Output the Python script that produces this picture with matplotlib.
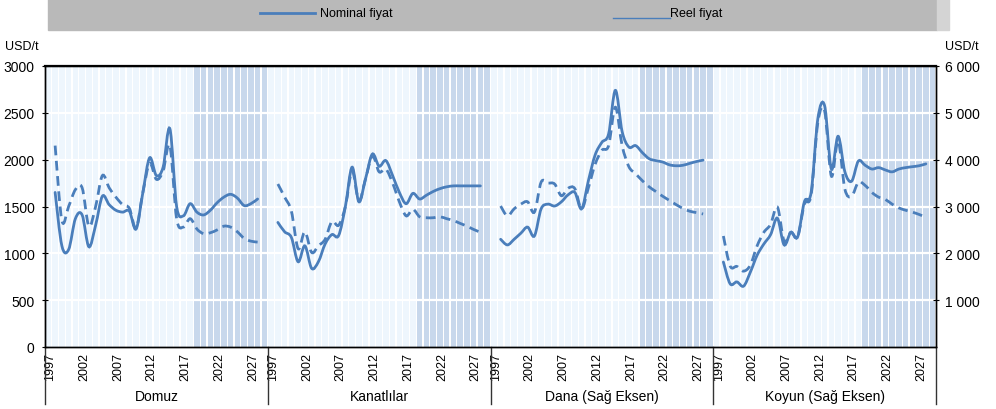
import numpy as np
import matplotlib
matplotlib.use("Agg")
from matplotlib import pyplot as plt
from matplotlib.path import Path
from matplotlib.patches import PathPatch, Rectangle
from matplotlib.lines import Line2D

plt.rcParams["font.family"] = ["Liberation Sans Narrow", "Liberation Sans", "DejaVu Sans"]

years = list(range(1997, 2028))
groups = ["Domuz", "Kanatlılar", "Dana (Sağ Eksen)", "Koyun (Sağ Eksen)"]
year_ticks = [1997, 2002, 2007, 2012, 2017, 2022, 2027]
proj_start = 2018

domuz_nom = [1650, 1080, 1040, 1370, 1410, 1070, 1300, 1610, 1520, 1460, 1440, 1450, 1260, 1650, 2020, 1830,
             1920, 2330, 1500, 1400, 1530, 1440, 1410, 1460, 1540, 1600, 1630, 1590, 1510, 1530, 1580]
domuz_real = [2150, 1350, 1500, 1680, 1700, 1290, 1500, 1830, 1700, 1600, 1520, 1480, 1270, 1650, 1960, 1790,
              1880, 2150, 1370, 1280, 1370, 1260, 1210, 1220, 1250, 1290, 1280, 1230, 1160, 1130, 1120]
kanat_nom = [1330, 1230, 1170, 910, 1080, 840, 910, 1100, 1200, 1190, 1500, 1920, 1550, 1800, 2060, 1930,
             1990, 1830, 1650, 1530, 1640, 1580, 1620, 1660, 1690, 1710, 1720, 1720, 1720, 1720, 1720]
kanat_real = [1740, 1600, 1450, 1050, 1230, 1010, 1080, 1150, 1340, 1300, 1500, 1880, 1560, 1800, 2040, 1870,
              1900, 1750, 1550, 1400, 1470, 1390, 1380, 1380, 1390, 1370, 1350, 1320, 1290, 1255, 1225]
dana_nom = [2300, 2180, 2300, 2430, 2560, 2370, 2950, 3050, 3010, 3100, 3250, 3300, 2950, 3550, 4100, 4370,
            4550, 5480, 4600, 4270, 4300, 4150, 4020, 3980, 3950, 3890, 3870, 3880, 3920, 3960, 3990]
dana_real = [3010, 2800, 2950, 3050, 3100, 2880, 3520, 3500, 3480, 3230, 3390, 3380, 2950, 3400, 3900, 4200,
             4300, 5120, 4300, 3850, 3700, 3550, 3420, 3320, 3220, 3130, 3040, 2960, 2900, 2870, 2840]
koyun_nom = [1815, 1350, 1390, 1300, 1600, 1960, 2200, 2400, 2750, 2180, 2450, 2350, 3100, 3300, 4880, 5150,
             3800, 4500, 3740, 3540, 3970, 3880, 3800, 3830, 3780, 3740, 3800, 3830, 3850, 3870, 3910]
koyun_real = [2370, 1730, 1720, 1620, 1750, 2160, 2450, 2620, 2990, 2260, 2450, 2350, 3050, 3250, 4800, 5040,
              3650, 4400, 3370, 3220, 3520, 3450, 3300, 3200, 3150, 3050, 2970, 2920, 2880, 2830, 2770]

left_series = [(domuz_nom, domuz_real), (kanat_nom, kanat_real)]
right_series = [(dana_nom, dana_real), (koyun_nom, koyun_real)]

blue = "#4a7ebb"
slots = 33  # 1 blank + 31 years + 1 blank per group


def xpos(g, yrs):
    return np.array([g * slots + 1 + (y - 1997) + 0.5 for y in yrs])


def smooth_path(x, y):
    # Excel-style smoothed line (bezier through every point)
    pts = np.column_stack([x, y])
    verts = [pts[0]]
    codes = [Path.MOVETO]
    n = len(pts)
    for i in range(n - 1):
        p0 = pts[max(i - 1, 0)]
        p1 = pts[i]
        p2 = pts[i + 1]
        p3 = pts[min(i + 2, n - 1)]
        verts += [p1 + (p2 - p0) / 6.0, p2 - (p3 - p1) / 6.0, p2]
        codes += [Path.CURVE4] * 3
    return Path(verts, codes)


fig = plt.figure(figsize=(9.96, 4.10), dpi=100)
ax = fig.add_axes([45 / 996, 62 / 410, 891 / 996, 281 / 410])
ax.set_xlim(0, 4 * slots)
ax.set_ylim(0, 3000)

# background stripes, darker for projection years
for g in range(4):
    for k in range(slots):
        yr = 1997 + k - 1
        col = "#c8d8ec" if yr >= proj_start else "#eef6fd"
        ax.bar(g * slots + k + 0.5, 3000, width=0.78, color=col, linewidth=0, zorder=0)

for v in range(500, 3000, 500):
    ax.axhline(v, color="white", lw=1.6, zorder=1)

ax2 = ax.twinx()
ax2.set_ylim(0, 6000)
ax2.patch.set_visible(False)

for g, (nom, real) in enumerate(left_series):
    x = xpos(g, years)
    ax.add_patch(PathPatch(smooth_path(x, nom), fill=False, ec=blue, lw=2.0, zorder=3, capstyle="round"))
    ax.add_patch(PathPatch(smooth_path(x, real), fill=False, ec=blue, lw=2.0, ls=(0, (3.5, 2)), zorder=3))
for g, (nom, real) in enumerate(right_series):
    x = xpos(g + 2, years)
    ax2.add_patch(PathPatch(smooth_path(x, nom), fill=False, ec=blue, lw=2.0, zorder=3, capstyle="round"))
    ax2.add_patch(PathPatch(smooth_path(x, real), fill=False, ec=blue, lw=2.0, ls=(0, (3.5, 2)), zorder=3))

# axes and ticks
ax.set_yticks(range(0, 3001, 500))
ax.set_yticklabels([str(v) for v in range(0, 3001, 500)], fontsize=10)
ax2.set_yticks(range(1000, 6001, 1000))
ax2.set_yticklabels(["1 000", "2 000", "3 000", "4 000", "5 000", "6 000"], fontsize=10)
ax.tick_params(axis="y", direction="inout", length=5, width=0.8, pad=5)
ax2.tick_params(axis="y", direction="inout", length=5, width=0.8, pad=4)
ax.set_xticks([])
for a in (ax, ax2):
    for s in a.spines.values():
        s.set_color("black")
        s.set_linewidth(1.0)
ax.spines["top"].set_linewidth(1.6)

# year labels and group labels under the axis
for g in range(4):
    for y in year_ticks:
        xp = xpos(g, [y])[0] - 0.7
        ax.text(xp, -50, str(y), rotation=90, ha="center", va="top", fontsize=9)
    ax.text(g * slots + slots / 2, -520, groups[g], ha="center", va="center", fontsize=10)
for g in range(5):
    ax.plot([g * slots, g * slots], [0, -610], color="#333333", lw=1.0, clip_on=False, zorder=5)

fig.text(5 / 996, 1 - 47 / 410, "USD/t", fontsize=9, va="center")
fig.text(945 / 996, 1 - 47 / 410, "USD/t", fontsize=9, va="center")

# legend band at the top
fig.patches.append(Rectangle((48 / 996, 1 - 31 / 410), 889 / 996, 31 / 410, transform=fig.transFigure,
                             color="#b9b9b9", zorder=0))
fig.patches.append(Rectangle((937 / 996, 1 - 31 / 410), 12 / 996, 31 / 410, transform=fig.transFigure,
                             color="#d4d4d4", zorder=0))
fig.lines.append(Line2D([260 / 996, 315 / 996], [1 - 14 / 410] * 2, transform=fig.transFigure,
                        color=blue, lw=2.0))
fig.text(320 / 996, 1 - 14 / 410, "Nominal fiyat", fontsize=9, va="center")
fig.lines.append(Line2D([613 / 996, 670 / 996], [1 - 19 / 410] * 2, transform=fig.transFigure,
                        color=blue, lw=1.0))
fig.text(670 / 996, 1 - 14 / 410, "Reel fiyat", fontsize=9, va="center")

fig.savefig("out.png", dpi=100)
